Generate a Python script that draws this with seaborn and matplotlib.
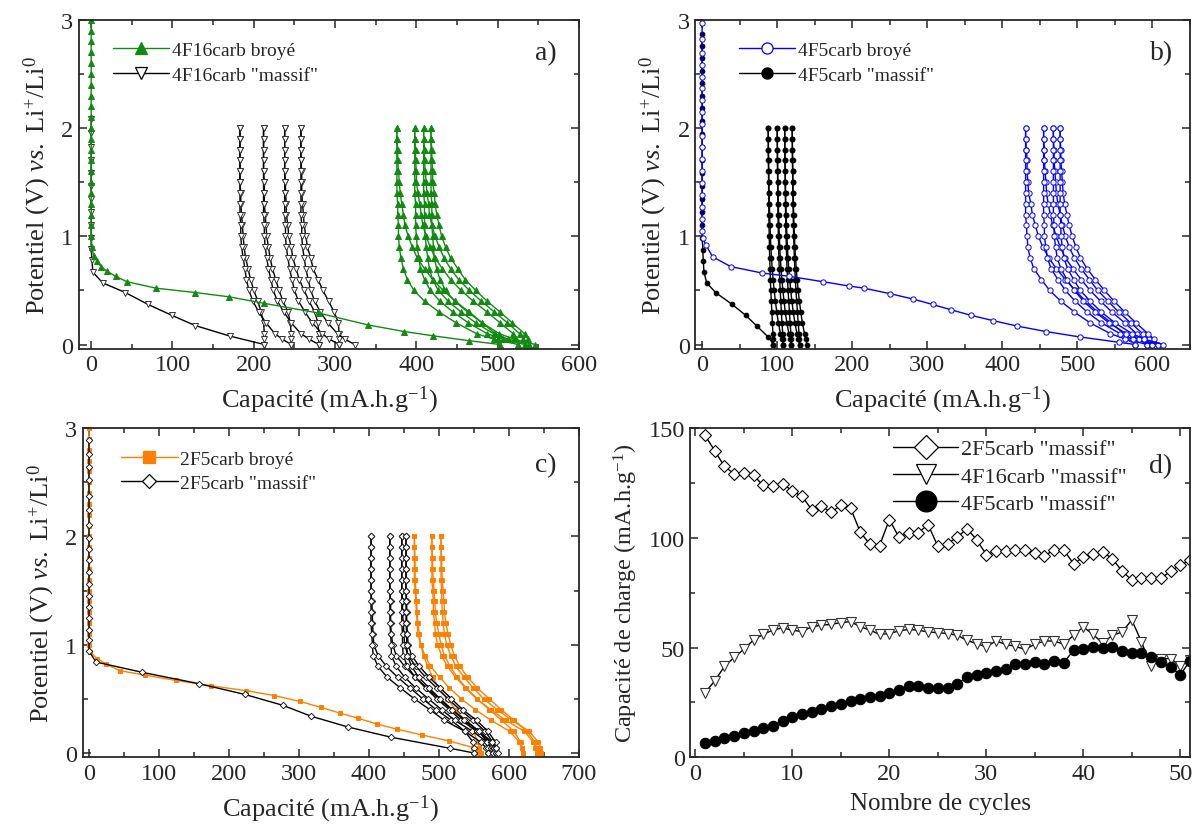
import matplotlib
matplotlib.use("Agg")
import pandas as pd
import matplotlib.pyplot as plt
from matplotlib.lines import Line2D
from matplotlib.ticker import MultipleLocator
import seaborn as sns

# --- voltage levels of the cycling curves (2 V -> 0 V) ---
V_LEVELS = [2.0, 1.9, 1.8, 1.7, 1.6, 1.5, 1.4, 1.3, 1.2, 1.1, 1.0,
            0.9, 0.8, 0.7, 0.6, 0.5, 0.4, 0.3, 0.2, 0.1, 0.05, 0.0]

# --- a) 4F16carb broyé (green) ---
A_GREEN_FIRST_V = [3.0, 2.9, 2.8, 2.7, 2.6, 2.5, 2.4, 2.3, 2.2, 2.1, 2.0, 1.9, 1.8, 1.7, 1.6,
                   1.5, 1.4, 1.3, 1.2, 1.1, 1.0, 0.9, 0.82, 0.77, 0.72, 0.68, 0.63, 0.58,
                   0.52, 0.48, 0.44, 0.38, 0.29, 0.18, 0.12, 0.08, 0.035, 0.0]
A_GREEN_FIRST_CAP = [0] * 21 + [1, 3, 7, 12, 19, 30, 44, 80, 128, 170, 213, 280, 341,
                                385, 421, 465, 503]
A_GREEN_CYCLES = [
    [376, 376, 377, 377, 378, 379, 380, 382, 384, 386, 390, 395, 401, 410, 420, 433, 448, 465, 481, 497, 501, 503],
    [376, 376, 376, 376, 376, 376, 376, 377, 377, 378, 378, 379, 381, 384, 389, 397, 410, 428, 449, 474, 495, 525],
    [398, 398, 399, 399, 400, 400, 402, 404, 406, 408, 412, 417, 423, 432, 442, 455, 470, 487, 503, 519, 523, 525],
    [398, 398, 398, 398, 398, 398, 398, 399, 399, 399, 400, 401, 403, 405, 410, 417, 429, 445, 464, 487, 506, 533],
    [409, 409, 410, 410, 411, 412, 413, 415, 416, 419, 423, 428, 434, 442, 452, 465, 480, 496, 512, 527, 531, 533],
    [409, 409, 409, 409, 409, 409, 409, 410, 410, 410, 411, 412, 414, 416, 420, 427, 439, 455, 473, 495, 513, 539],
    [418, 418, 419, 419, 420, 420, 422, 423, 425, 428, 431, 436, 442, 451, 460, 473, 487, 503, 518, 533, 537, 539],
    [418, 418, 418, 418, 418, 418, 418, 419, 419, 419, 420, 421, 422, 425, 429, 436, 447, 463, 481, 502, 520, 546],
]

# --- a) 4F16carb "massif" (black) ---
A_BLACK_FIRST_V = [2.08, 1.95, 1.82, 1.7, 1.58, 1.46, 1.34, 1.22, 1.1, 0.98, 0.88, 0.78,
                   0.67, 0.57, 0.48, 0.37, 0.27, 0.175, 0.077, 0.0]
A_BLACK_FIRST_CAP = [0] * 11 + [1, 2, 14, 42, 70, 99, 128, 171, 213]
A_BLACK_CYCLES = [
    [183, 183, 183, 183, 183, 183, 184, 184, 185, 186, 187, 188, 190, 193, 196, 200, 205, 209, 212, 213, 213, 213],
    [183, 183, 183, 183, 183, 183, 183, 183, 183, 184, 184, 185, 187, 189, 191, 194, 199, 206, 215, 226, 235, 246],
    [212, 212, 212, 212, 212, 213, 213, 213, 214, 215, 216, 218, 220, 223, 227, 231, 236, 242, 245, 246, 246, 246],
    [212, 212, 212, 212, 212, 212, 212, 212, 212, 213, 213, 214, 216, 218, 221, 224, 229, 237, 246, 258, 268, 280],
    [238, 238, 238, 238, 238, 239, 239, 240, 240, 242, 243, 246, 248, 252, 256, 262, 268, 275, 279, 280, 280, 280],
    [238, 238, 238, 238, 238, 238, 238, 238, 238, 239, 239, 240, 242, 244, 247, 250, 255, 263, 272, 284, 293, 305],
    [258, 258, 258, 258, 259, 259, 259, 260, 261, 262, 264, 266, 270, 273, 279, 285, 292, 299, 304, 305, 305, 305],
    [258, 258, 258, 258, 258, 258, 258, 258, 258, 259, 259, 260, 262, 264, 267, 270, 275, 282, 291, 303, 312, 324],
]

# --- b) 4F5carb broyé (blue) ---
B_BLUE_FIRST_V = [2.97, 2.82, 2.69, 2.58, 2.47, 2.37, 2.26, 2.15, 2.04, 1.93, 1.82, 1.71, 1.6,
                  1.49, 1.38, 1.27, 1.16, 1.05, 0.98, 0.92, 0.81, 0.72, 0.66, 0.63, 0.58, 0.54,
                  0.52, 0.47, 0.42, 0.37, 0.32, 0.27, 0.22, 0.17, 0.12, 0.07, 0.02, 0.0]
B_BLUE_FIRST_CAP = [0] * 18 + [1, 5, 14, 38, 80, 116, 161, 196, 216, 250, 281, 307, 332,
                               358, 388, 420, 458, 503, 556, 577]
B_BLUE_CYCLES = [
    [431, 431, 432, 433, 433, 434, 435, 438, 440, 444, 448, 454, 462, 472, 484, 497, 511, 527, 545, 562, 571, 577],
    [431, 431, 431, 431, 431, 431, 431, 431, 431, 432, 433, 434, 437, 442, 452, 463, 478, 496, 517, 544, 564, 593],
    [455, 455, 456, 456, 457, 458, 459, 461, 464, 467, 472, 477, 484, 494, 505, 517, 531, 546, 563, 579, 587, 593],
    [455, 455, 455, 455, 455, 455, 455, 455, 455, 456, 456, 458, 460, 465, 474, 484, 497, 513, 532, 557, 574, 600],
    [468, 468, 469, 469, 470, 471, 472, 474, 477, 480, 484, 489, 496, 505, 516, 527, 541, 555, 571, 587, 595, 600],
    [468, 468, 468, 468, 468, 468, 468, 468, 468, 469, 469, 471, 473, 478, 486, 496, 508, 524, 542, 565, 582, 607],
    [477, 477, 478, 478, 479, 480, 481, 483, 486, 489, 493, 498, 504, 513, 524, 536, 549, 563, 578, 594, 602, 607],
    [477, 477, 477, 477, 477, 477, 477, 477, 477, 478, 478, 480, 482, 487, 495, 504, 517, 532, 550, 573, 589, 614],
]

# --- b) 4F5carb "massif" (black) ---
B_BLACK_FIRST_V = [2.87, 2.76, 2.65, 2.53, 2.42, 2.3, 2.18, 2.06, 1.94, 1.82, 1.7, 1.58, 1.46,
                   1.34, 1.22, 1.1, 0.98, 0.87, 0.77, 0.67, 0.57, 0.48, 0.37, 0.27, 0.17, 0.07, 0.0]
B_BLACK_FIRST_CAP = [0] * 16 + [0, 1, 1.5, 2.5, 6, 18, 40, 58, 73, 88, 95]
B_BLACK_CYCLES = [
    [88, 88.1, 88.1, 88.2, 88.4, 88.5, 88.6, 88.8, 88.9, 89.1, 89.4, 89.7, 90, 90.5, 90.9, 91.5, 92.2, 92.9, 93.6, 94.4, 94.8, 95],
    [88, 88.2, 88.4, 88.6, 88.8, 89, 89.2, 89.6, 90, 90.4, 91, 91.6, 92.4, 93.4, 94.6, 96, 97.6, 99.4, 101.6, 104.4, 106, 108],
    [100, 100.1, 100.2, 100.2, 100.4, 100.6, 100.7, 100.9, 101, 101.3, 101.6, 101.9, 102.3, 102.8, 103.4, 104, 104.8, 105.6, 106.4, 107.4, 107.8, 108],
    [100, 100.2, 100.4, 100.6, 100.8, 101, 101.1, 101.5, 101.9, 102.3, 102.9, 103.4, 104.2, 105.1, 106.3, 107.6, 109.1, 110.8, 112.9, 115.6, 117.1, 119],
    [110, 110.1, 110.2, 110.3, 110.5, 110.6, 110.8, 111, 111.2, 111.4, 111.8, 112.2, 112.6, 113.2, 113.8, 114.5, 115.4, 116.3, 117.2, 118.3, 118.7, 119],
    [110, 110.2, 110.4, 110.6, 110.8, 111, 111.2, 111.6, 112, 112.4, 113, 113.6, 114.4, 115.4, 116.6, 118, 119.6, 121.4, 123.6, 126.4, 128, 130],
    [120, 120.1, 120.2, 120.3, 120.5, 120.7, 120.9, 121.1, 121.3, 121.6, 122, 122.4, 122.9, 123.5, 124.2, 125, 126, 127, 128, 129.2, 129.7, 130],
    [120, 120.2, 120.4, 120.6, 120.8, 121, 121.2, 121.6, 122, 122.4, 123, 123.6, 124.4, 125.4, 126.6, 128, 129.6, 131.4, 133.6, 136.4, 138, 140],
]

# --- c) 2F5carb broyé (orange) ---
C_ORANGE_FIRST_V = [3.0, 2.9, 2.8, 2.7, 2.6, 2.5, 2.4, 2.3, 2.2, 2.1, 2.0, 1.9, 1.8, 1.7, 1.6,
                    1.5, 1.4, 1.3, 1.2, 1.1, 1.0, 0.93, 0.87, 0.82, 0.76, 0.72, 0.67, 0.62,
                    0.575, 0.53, 0.477, 0.42, 0.369, 0.32, 0.268, 0.22, 0.166, 0.11, 0.05, 0.0]
C_ORANGE_FIRST_CAP = [0] * 21 + [2, 12, 25, 44, 80, 124, 175, 225, 265, 301, 332, 358, 385,
                                 411, 440, 476, 515, 549, 560]
C_ORANGE_CYCLES = [
    [465, 465, 466, 466, 466, 467, 468, 469, 470, 472, 474, 478, 484, 491, 500, 512, 524, 537, 549, 556, 558, 558],
    [465, 465, 465, 465, 465, 466, 467, 468, 469, 470, 474, 480, 488, 501, 515, 532, 552, 575, 601, 615, 619, 620],
    [490, 490, 491, 491, 492, 493, 494, 495, 497, 500, 503, 508, 516, 526, 539, 555, 572, 590, 607, 617, 619, 620],
    [490, 490, 490, 490, 490, 491, 492, 492, 494, 495, 498, 504, 512, 524, 538, 554, 574, 596, 622, 635, 638, 640],
    [503, 503, 504, 504, 505, 506, 507, 508, 510, 513, 517, 522, 530, 541, 555, 572, 589, 608, 626, 637, 639, 640],
    [503, 503, 503, 503, 503, 504, 504, 505, 506, 508, 511, 517, 524, 536, 549, 564, 583, 605, 629, 642, 645, 646],
]

# --- c) 2F5carb "massif" (black) ---
C_BLACK_FIRST_V = [2.89, 2.76, 2.64, 2.52, 2.37, 2.24, 2.11, 1.99, 1.88, 1.78, 1.67, 1.56, 1.45,
                   1.35, 1.25, 1.14, 1.04, 0.94, 0.84, 0.745, 0.64, 0.54, 0.44, 0.34, 0.24,
                   0.145, 0.043, 0.0]
C_BLACK_FIRST_CAP = [0] * 18 + [10, 76, 157, 223, 277, 317, 370, 432, 516, 550]
C_BLACK_CYCLES = [
    [403, 403, 403, 403, 403, 403, 404, 405, 405, 406, 407, 413, 425, 441, 459, 477, 496, 518, 537, 549, 550, 550],
    [403, 403, 403, 403, 403, 403, 403, 403, 403, 404, 405, 406, 413, 426, 445, 465, 487, 508, 537, 560, 567, 570],
    [430, 430, 430, 430, 430, 430, 431, 431, 431, 432, 434, 439, 451, 466, 483, 500, 518, 539, 557, 569, 570, 570],
    [430, 430, 430, 430, 430, 430, 430, 430, 430, 431, 432, 432, 439, 451, 467, 485, 504, 523, 548, 569, 575, 578],
    [447, 447, 447, 447, 447, 447, 448, 448, 449, 450, 451, 456, 467, 481, 497, 513, 530, 549, 566, 577, 578, 578],
    [447, 447, 447, 447, 447, 447, 447, 447, 447, 448, 448, 449, 455, 466, 481, 497, 515, 532, 555, 574, 579, 582],
    [453, 453, 453, 453, 453, 453, 454, 454, 454, 455, 456, 461, 472, 486, 502, 518, 534, 554, 570, 581, 582, 582],
    [453, 453, 453, 453, 453, 453, 453, 453, 453, 454, 454, 455, 461, 471, 486, 502, 519, 536, 558, 576, 581, 584],
]

# --- d) charge capacity vs cycle number ---
CYCLES = list(range(1, 52))
CH_2F5 = [146.7, 139.7, 132.6, 129.2, 129.5, 128.5, 123.9, 123.5, 124.7, 121.4,
          118.9, 112.9, 114.4, 111.7, 114.8, 113.6, 102.7, 97.0, 96.5, 108.3,
          100.3, 102.4, 102.4, 106.0, 96.2, 97.3, 100.3, 104.2, 99.2, 92.4,
          93.9, 93.9, 94.4, 94.4, 93.2, 91.7, 94.7, 94.4, 88.2, 91.2,
          92.7, 93.5, 90.5, 84.8, 80.8, 81.5, 81.5, 81.5, 84.8, 87.6, 89.7]
CH_4F16 = [29.5, 34.8, 41.4, 45.5, 49.2, 53.5, 56.0, 58.0, 59.0, 57.9,
           57.3, 59.5, 60.2, 60.6, 61.4, 61.8, 59.5, 58.0, 56.0, 56.4,
           57.6, 58.3, 57.9, 57.1, 56.8, 56.4, 55.6, 53.3, 51.8, 50.3,
           53.0, 51.5, 50.5, 49.2, 51.5, 53.0, 53.0, 51.5, 55.6, 59.4,
           56.0, 52.0, 55.6, 57.1, 62.6, 52.6, 41.4, 45.0, 45.0, 41.7, 44.4]
CH_4F5 = [6.5, 7.6, 8.8, 9.8, 10.9, 11.8, 13.2, 14.4, 16.7, 18.2,
          19.7, 20.8, 22.0, 23.5, 24.5, 25.5, 26.5, 27.6, 28.0, 29.1,
          30.6, 32.6, 32.3, 31.4, 31.4, 31.4, 33.3, 36.8, 37.6, 38.6,
          39.4, 40.2, 42.4, 42.7, 43.6, 42.4, 43.9, 43.2, 48.8, 49.4,
          50.3, 50.0, 50.3, 48.5, 47.6, 47.7, 45.9, 43.5, 41.2, 37.6, 43.9]

GREEN = "#128a12"
BLUE = "#0000ff"
ORANGE = "#ff8000"

sns.set_style("ticks")
plt.rcParams["font.family"] = ["Liberation Serif", "DejaVu Serif"]
plt.rcParams["mathtext.fontset"] = "custom"
plt.rcParams["mathtext.rm"] = "Liberation Serif"
plt.rcParams["mathtext.it"] = "Liberation Serif:italic"


def curve_frame(first_cap, first_v, cycles):
    parts = [pd.DataFrame({"cap": first_cap, "V": first_v, "curve": 0})]
    for i, caps in enumerate(cycles, start=1):
        parts.append(pd.DataFrame({"cap": caps, "V": V_LEVELS, "curve": i}))
    return pd.concat(parts, ignore_index=True)


def draw(ax, df, color, marker, ms, mfc, mec=None, mew=0.7):
    sns.lineplot(data=df, x="cap", y="V", units="curve", estimator=None, sort=False,
                 color=color, marker=marker, markersize=ms, markerfacecolor=mfc,
                 markeredgecolor=mec or color, markeredgewidth=mew, linewidth=1.0,
                 legend=False, ax=ax)


def style(ax, xmaj, xmin, ymaj, ymin):
    ax.xaxis.set_major_locator(MultipleLocator(xmaj))
    ax.xaxis.set_minor_locator(MultipleLocator(xmin))
    ax.yaxis.set_major_locator(MultipleLocator(ymaj))
    ax.yaxis.set_minor_locator(MultipleLocator(ymin))
    ax.tick_params(which="both", direction="in", top=True, right=True, width=1.1)
    ax.tick_params(which="major", length=6, labelsize=17.5, pad=4)
    ax.tick_params(which="minor", length=3.5)
    for s in ax.spines.values():
        s.set_linewidth(1.3)


def legend(ax, entries, fontsize=14, spacing=0.35, **kw):
    handles = [Line2D([], [], color=c, marker=m, ms=ms, mfc=fc, mec=ec, mew=0.9, lw=1.0, label=t)
               for t, c, m, ms, fc, ec in entries]
    ax.legend(handles=handles, frameon=False, fontsize=fontsize, handlelength=2.9,
              handletextpad=0.15, labelspacing=spacing, borderaxespad=0.3, **kw)


ylab = r"Potentiel (V) $\mathit{vs.}$ Li$^{+}$/Li$^{0}$"
xlab = r"Capacité (mA.h.g$^{-1}$)"

fig = plt.figure(figsize=(11.95, 8.29), dpi=100)
ax_a = fig.add_axes([0.0661, 0.578, 0.4184, 0.397])
ax_b = fig.add_axes([0.5819, 0.578, 0.4139, 0.397])
ax_c = fig.add_axes([0.0692, 0.0853, 0.4152, 0.397])
ax_d = fig.add_axes([0.5778, 0.0853, 0.418, 0.397])

# a)
draw(ax_a, curve_frame(A_BLACK_FIRST_CAP, A_BLACK_FIRST_V, A_BLACK_CYCLES),
     "black", "v", 4.3, "white", "#333333")
draw(ax_a, curve_frame(A_GREEN_FIRST_CAP, A_GREEN_FIRST_V, A_GREEN_CYCLES),
     GREEN, "^", 4.0, GREEN)
ax_a.set_xlim(-15, 600)
ax_a.set_ylim(-0.04, 3)
style(ax_a, 100, 50, 1, 0.5)
legend(ax_a, [("4F16carb broyé", GREEN, "^", 9, GREEN, GREEN),
              ('4F16carb "massif"', "black", "v", 9, "white", "black")],
       loc="upper left", bbox_to_anchor=(0.04, 0.975))
ax_a.text(0.955, 0.9, "a)", transform=ax_a.transAxes, fontsize=20, ha="right", va="center")

# b)
draw(ax_b, curve_frame(B_BLACK_FIRST_CAP, B_BLACK_FIRST_V, B_BLACK_CYCLES),
     "black", "o", 3.4, "black", "black")
draw(ax_b, curve_frame(B_BLUE_FIRST_CAP, B_BLUE_FIRST_V, B_BLUE_CYCLES),
     BLUE, "o", 3.8, "white", BLUE)
ax_b.set_xlim(-9, 650)
ax_b.set_ylim(-0.04, 3)
style(ax_b, 100, 50, 1, 0.5)
legend(ax_b, [("4F5carb broyé", BLUE, "o", 8, "white", BLUE),
              ('4F5carb "massif"', "black", "o", 8, "black", "black")],
       loc="upper left", bbox_to_anchor=(0.06, 0.975))
ax_b.text(0.965, 0.9, "b)", transform=ax_b.transAxes, fontsize=20, ha="right", va="center")

# c)
draw(ax_c, curve_frame(C_ORANGE_FIRST_CAP, C_ORANGE_FIRST_V, C_ORANGE_CYCLES),
     ORANGE, "s", 3.5, ORANGE)
draw(ax_c, curve_frame(C_BLACK_FIRST_CAP, C_BLACK_FIRST_V, C_BLACK_CYCLES),
     "black", "D", 3.3, "white", "#222222")
ax_c.set_xlim(-9, 700)
ax_c.set_ylim(-0.04, 3)
style(ax_c, 100, 50, 1, 0.5)
legend(ax_c, [("2F5carb broyé", ORANGE, "s", 8, ORANGE, ORANGE),
              ('2F5carb "massif"', "black", "D", 7, "white", "black")],
       loc="upper left", bbox_to_anchor=(0.05, 0.975))
ax_c.text(0.955, 0.89, "c)", transform=ax_c.transAxes, fontsize=20, ha="right", va="center")

# d)
sns.lineplot(x=CYCLES, y=CH_2F5, color="black", marker="D", markersize=6.2,
             markerfacecolor="white", markeredgecolor="black", markeredgewidth=0.8,
             linewidth=1.0, ax=ax_d)
sns.lineplot(x=CYCLES, y=CH_4F16, color="black", marker="v", markersize=7.5,
             markerfacecolor="white", markeredgecolor="#333333", markeredgewidth=0.8,
             linewidth=1.0, ax=ax_d)
sns.lineplot(x=CYCLES, y=CH_4F5, color="black", marker="o", markersize=7.5,
             markerfacecolor="black", markeredgecolor="black", markeredgewidth=0.8,
             linewidth=1.0, ax=ax_d)
ax_d.set_xlim(-0.5, 51)
ax_d.set_ylim(0, 150)
style(ax_d, 10, 5, 50, 25)
legend(ax_d, [('2F5carb "massif"', "black", "D", 12, "white", "black"),
              ('4F16carb "massif"', "black", "v", 15, "white", "black"),
              ('4F5carb "massif"', "black", "o", 15, "black", "black")],
       fontsize=16, spacing=0.3, loc="upper right", bbox_to_anchor=(0.905, 1.015))
ax_d.text(0.965, 0.885, "d)", transform=ax_d.transAxes, fontsize=20, ha="right", va="center")
ax_d.set_xlabel("Nombre de cycles", fontsize=18, labelpad=6)
ax_d.set_ylabel(r"Capacité de charge (mA.h.g$^{-1}$)", fontsize=17.5, labelpad=6)

for ax in (ax_a, ax_b, ax_c):
    ax.set_xlabel(xlab, fontsize=19, labelpad=6)
    ax.set_ylabel(ylab, fontsize=19, labelpad=6)

fig.savefig("out.png", dpi=100)
